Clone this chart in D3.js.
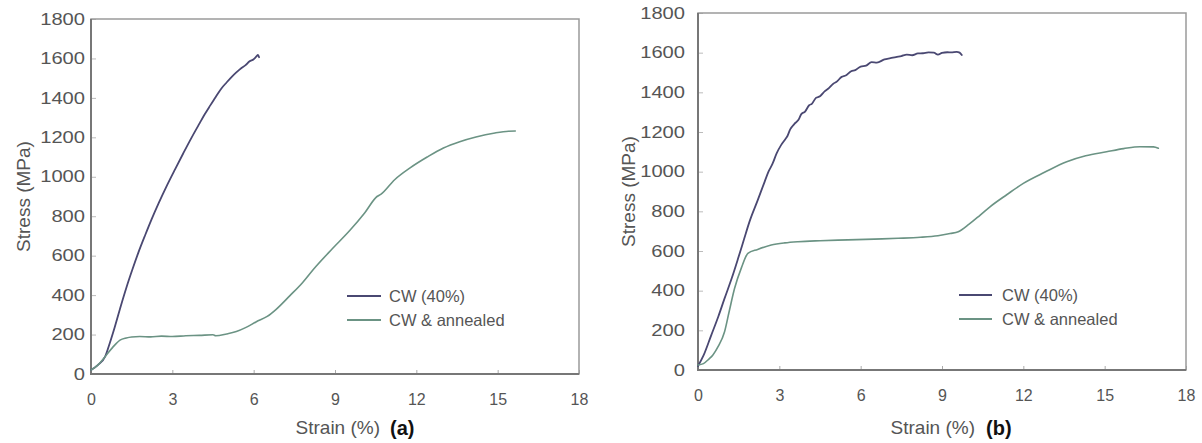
<!DOCTYPE html>
<html>
<head>
<meta charset="utf-8">
<script src="https://cdn.jsdelivr.net/npm/d3@7/dist/d3.min.js"></script>
<style>
  html, body { margin: 0; padding: 0; background: #fff; }
  svg { display: block; font-family: "Liberation Sans", Arial, sans-serif; }
</style>
</head>
<body>
<svg id="chart" width="1202" height="443"></svg>
<script>
// Tick values shared by both panels
const xTicks = [0, 3, 6, 9, 12, 15, 18];
const yTicks = [0, 200, 400, 600, 800, 1000, 1200, 1400, 1600, 1800];
const seriesNames = ["CW (40%)", "CW & annealed"];

// Panel (a): cold-worked 40 %
const strainCWa = [0, 0.25, 0.52, 0.7, 0.88, 1.1, 1.31, 1.52, 1.74, 2.0, 2.23, 2.5, 2.79, 3.1, 3.4, 3.7, 4.01, 4.2, 4.4, 4.6, 4.81, 5.0, 5.2, 5.35, 5.55, 5.7, 5.85, 6.0, 6.1, 6.16, 6.2];
const stressCWa = [20, 45, 88, 160, 240, 345, 440, 527, 613, 705, 783, 868, 953, 1038, 1118, 1196, 1272, 1318, 1362, 1405, 1448, 1478, 1508, 1528, 1552, 1566, 1586, 1596, 1610, 1618, 1606];

// Panel (a): cold-worked and annealed
const strainANa = [0, 0.25, 0.52, 0.8, 1.07, 1.3, 1.5, 1.8, 2.2, 2.6, 3.0, 3.5, 4.0, 4.5, 4.6, 5.0, 5.36, 5.7, 6.1, 6.5, 6.83, 7.32, 7.8, 8.2, 8.9, 9.56, 10.1, 10.55, 10.7, 11.2, 11.77, 12.4, 13.0, 13.6, 14.2, 14.9, 15.4, 15.65];
const stressANa = [20, 45, 88, 135, 172, 183, 188, 190, 188, 192, 190, 194, 196, 199, 194, 203, 215, 235, 265, 292, 328, 395, 463, 530, 635, 730, 818, 900, 912, 985, 1045, 1100, 1146, 1178, 1202, 1222, 1231, 1232];

// Panel (b): cold-worked 40 %
const strainCWb = [0, 0.2, 0.49, 0.75, 0.98, 1.25, 1.48, 1.7, 1.9, 2.2, 2.46, 2.6, 2.75, 2.9, 3.07, 3.2, 3.3, 3.4, 3.55, 3.7, 3.81, 3.95, 4.1, 4.2, 4.35, 4.5, 4.67, 4.8, 5.0, 5.1, 5.3, 5.45, 5.65, 5.8, 6.0, 6.2, 6.4, 6.6, 6.88, 7.1, 7.3, 7.5, 7.7, 7.9, 8.11, 8.3, 8.5, 8.7, 8.85, 9.0, 9.2, 9.34, 9.54, 9.65, 9.73];
const stressCWb = [20, 72, 176, 270, 361, 465, 563, 660, 748, 855, 950, 1000, 1040, 1092, 1135, 1160, 1180, 1213, 1240, 1260, 1290, 1303, 1335, 1342, 1372, 1380, 1405, 1418, 1445, 1452, 1478, 1485, 1506, 1512, 1530, 1535, 1552, 1550, 1566, 1572, 1578, 1583, 1590, 1587, 1596, 1597, 1601, 1600, 1590, 1599, 1602, 1601, 1604, 1600, 1588];

// Panel (b): cold-worked and annealed
const strainANb = [0, 0.2, 0.4, 0.55, 0.75, 0.98, 1.15, 1.35, 1.6, 1.84, 2.2, 2.7, 3.2, 3.69, 4.5, 5.53, 6.5, 7.38, 8.2, 8.85, 9.3, 9.6, 10.0, 10.4, 10.77, 11.4, 12.0, 12.8, 13.6, 14.3, 15.07, 15.7, 16.3, 16.8, 16.98];
const stressANb = [25, 32, 55, 76, 120, 193, 295, 412, 515, 588, 608, 630, 641, 647, 652, 656, 660, 664, 669, 677, 688, 697, 735, 780, 823, 885, 941, 998, 1050, 1080, 1100, 1116, 1126, 1125, 1118];

const colors = ["#4a4872", "#6b9384"];
const tickColor = "#555";

const panels = [
  { id: "a", box: { left: 91, top: 19, right: 579, bottom: 374 }, yPad: 6, yTitleX: 23, titleEnd: 380, tagX: 390,
    legend: { x1: 347, x2: 381, y: 296, tx: 389 },
    series: [[strainCWa, stressCWa], [strainANa, stressANa]] },
  { id: "b", box: { left: 698, top: 13, right: 1186, bottom: 370 }, yPad: 13, yTitleX: 628, titleEnd: 975, tagX: 986,
    legend: { x1: 959, x2: 992, y: 295, tx: 1002 },
    series: [[strainCWb, stressCWb], [strainANb, stressANb]] }
];

const svg = d3.select("#chart");

panels.forEach(p => {
  const b = p.box;
  const x = d3.scaleLinear().domain([0, 18]).range([b.left, b.right]);
  const y = d3.scaleLinear().domain([0, 1800]).range([b.bottom, b.top]);
  const g = svg.append("g").attr("class", "panel-" + p.id);

  // x axis: ticks point into the plot
  const xa = g.append("g").attr("transform", `translate(0,${b.bottom})`)
    .call(d3.axisBottom(x).tickValues(xTicks).tickFormat(d3.format("d"))
      .tickSizeInner(-4).tickSizeOuter(0).tickPadding(20));
  xa.select(".domain").remove();
  xa.selectAll("line").attr("stroke", "#aaa");
  xa.selectAll("text").attr("fill", tickColor).style("font-size", "16px");

  // y axis: labels are set wide
  const sx = 1.26;
  const ya = g.append("g").attr("transform", `translate(${b.left},0)`)
    .call(d3.axisLeft(y).tickValues(yTicks).tickFormat(d3.format("d"))
      .tickSizeInner(-5).tickSizeOuter(0).tickPadding(p.yPad));
  ya.select(".domain").remove();
  ya.selectAll("line").attr("stroke", "#bbb");
  ya.selectAll("text").attr("fill", tickColor).style("font-size", "16px")
    .attr("x", -p.yPad / sx).attr("transform", `scale(${sx},1)`);

  // plot frame
  g.append("rect").attr("x", b.left).attr("y", b.top)
    .attr("width", b.right - b.left).attr("height", b.bottom - b.top)
    .attr("fill", "none").attr("stroke", "#9a9a9a").attr("stroke-width", 1.5);
  g.append("path")
    .attr("d", `M${b.left},${b.top}V${b.bottom}H${b.right}`)
    .attr("fill", "none").attr("stroke", "#777").attr("stroke-width", 2);

  // curves
  const line = d3.line().x(d => x(d[0])).y(d => y(d[1])).curve(d3.curveMonotoneX);
  p.series.forEach((s, i) => {
    const pts = s[0].map((v, k) => [v, s[1][k]]);
    g.append("path").datum(pts).attr("d", line)
      .attr("fill", "none").attr("stroke", colors[i])
      .attr("stroke-width", i === 0 ? 1.8 : 1.6)
      .attr("stroke-linejoin", "round").attr("stroke-linecap", "round");
  });

  // legend
  seriesNames.forEach((name, i) => {
    const ly = p.legend.y + i * 24;
    g.append("line").attr("x1", p.legend.x1).attr("x2", p.legend.x2)
      .attr("y1", ly).attr("y2", ly).attr("stroke", colors[i]).attr("stroke-width", 2);
    g.append("text").attr("x", p.legend.tx).attr("y", ly).attr("dy", "0.36em")
      .attr("fill", "#555").style("font-size", "16.5px").text(name);
  });

  // axis titles
  g.append("text")
    .attr("transform", `translate(${p.yTitleX},${(b.top + b.bottom) / 2}) rotate(-90)`)
    .attr("text-anchor", "middle").attr("dy", "0.35em")
    .attr("fill", "#555").style("font-size", "19px").text("Stress (MPa)");
  g.append("text").attr("x", p.titleEnd).attr("y", 434).attr("text-anchor", "end")
    .attr("fill", "#555").style("font-size", "19px").text("Strain (%)");
  g.append("text").attr("x", p.tagX).attr("y", 435)
    .attr("fill", "#111").style("font-size", "20px").style("font-weight", "bold")
    .text(`(${p.id})`);
});
</script>
</body>
</html>
